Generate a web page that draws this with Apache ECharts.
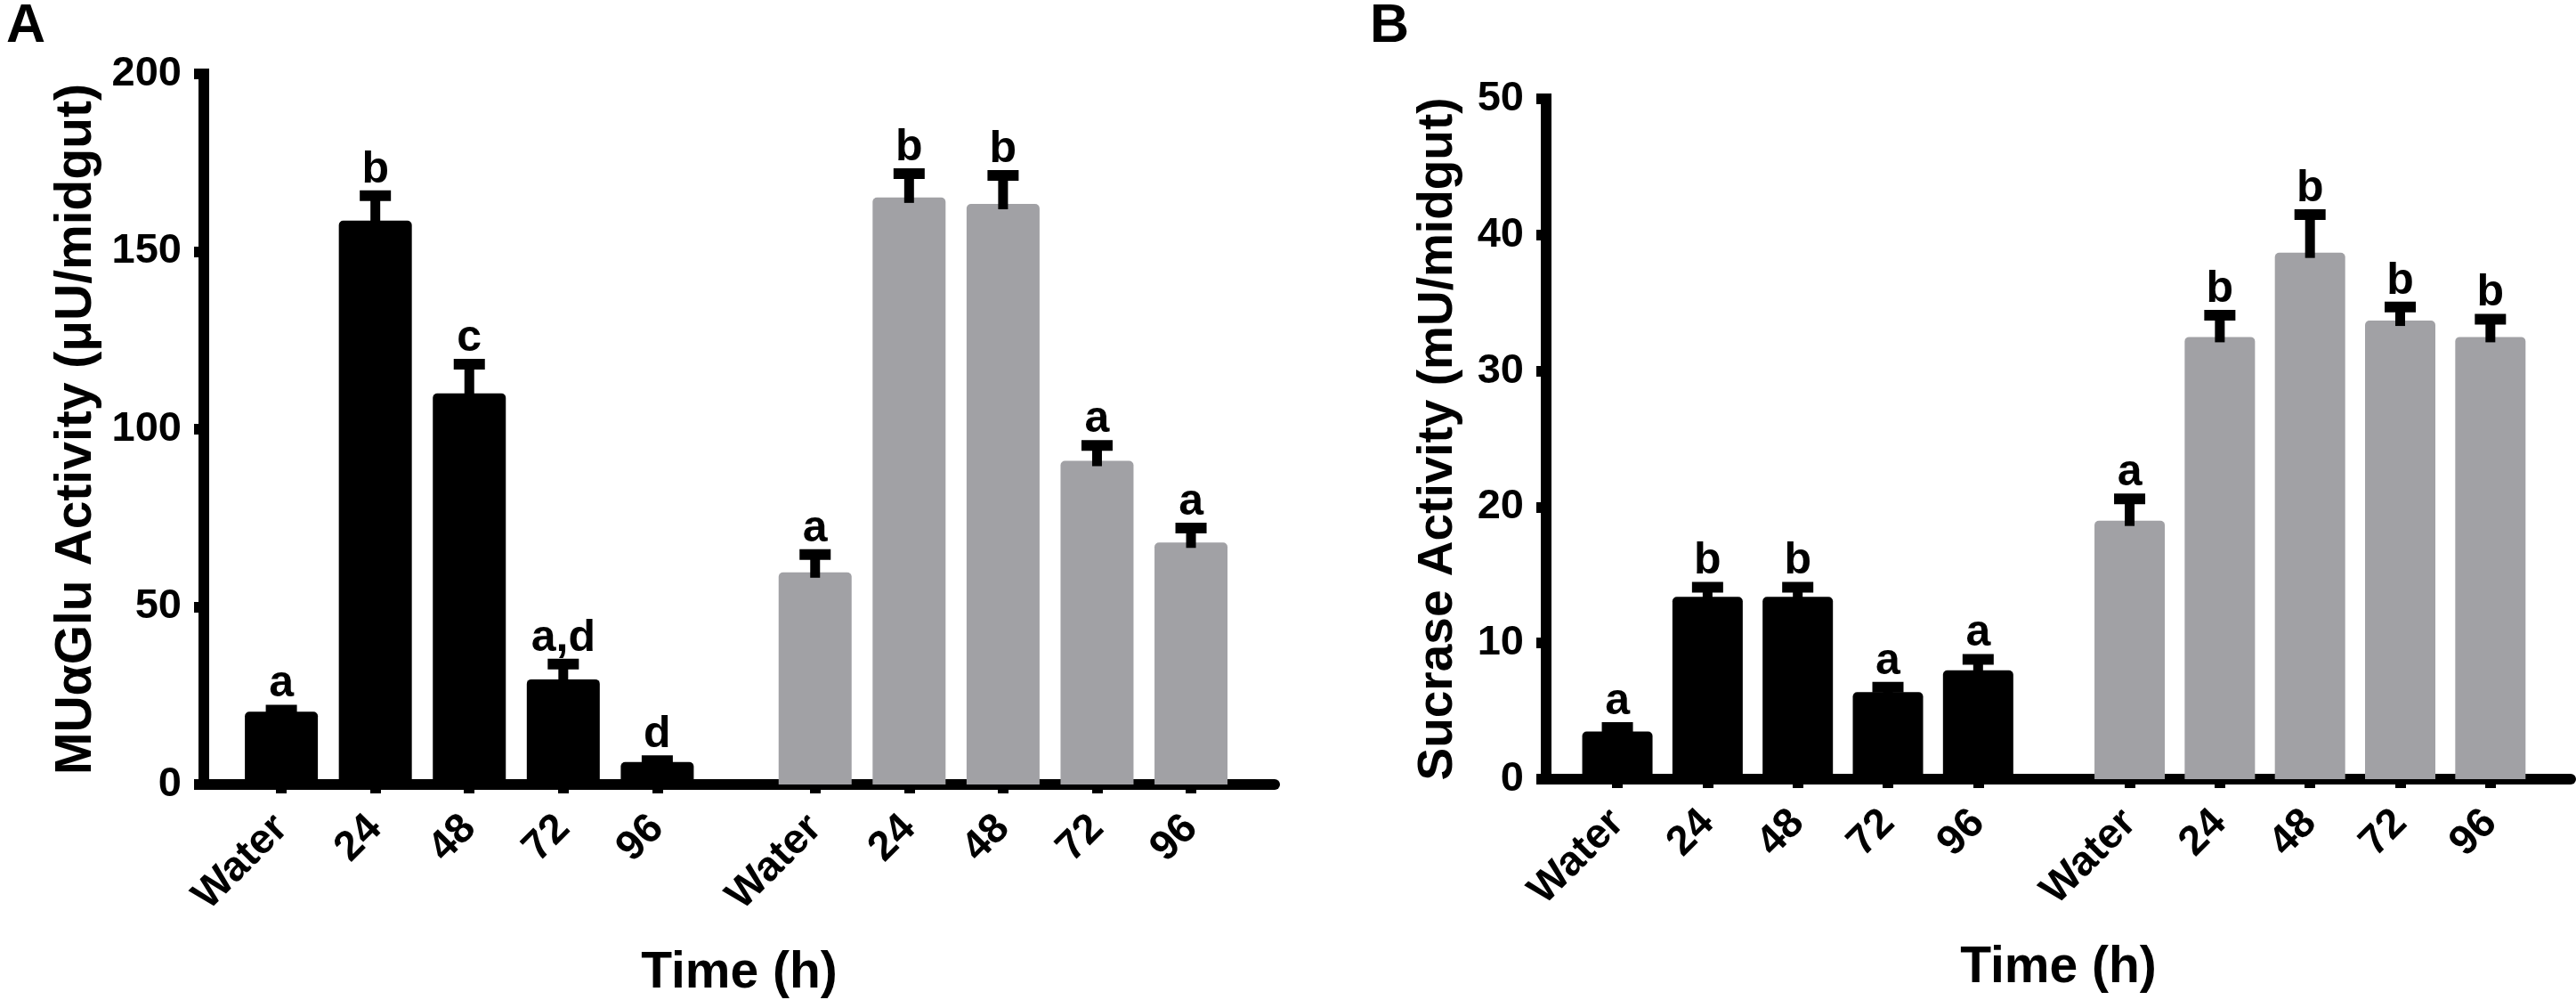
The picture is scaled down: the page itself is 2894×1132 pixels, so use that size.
<!DOCTYPE html>
<html>
<head>
<meta charset="utf-8">
<title>MUaGlu / Sucrase activity</title>
<script src="https://cdn.jsdelivr.net/npm/echarts@6/dist/echarts.min.js"></script>
<style>
    html,body{margin:0;padding:0;background:#fff;}
    #demo{width:2894px;height:1132px;}
</style>
</head>
<body>
<div id="demo"></div>
<script>
// x categories (two groups of five)
var catLabels = ['Water','24','48','72','96','Water','24','48','72','96'];

// panel A : MUaGlu activity (uU/midgut)
var aBlack    = [20.5, 158.7, 110.1, 29.6, 6.3];
var aBlackErr = [0.4, 7.0, 8.2, 4.3, 0.4];
var aGray     = [59.7, 165.2, 163.4, 91.1, 68.1];
var aGrayErr  = [5.0, 6.7, 8.0, 4.3, 4.1];
var aLetters  = ['a','b','c','a,d','d','a','b','b','a','a'];
var aTicks    = [0, 50, 100, 150, 200];

// panel B : Sucrase activity (mU/midgut)
var bBlack    = [3.5, 13.4, 13.4, 6.4, 8.0];
var bBlackErr = [0.3, 0.7, 0.7, 0.35, 0.8];
var bGray     = [19.0, 32.5, 38.7, 33.7, 32.5];
var bGrayErr  = [1.6, 1.6, 2.8, 1.0, 1.3];
var bLetters  = ['a','b','b','a','a','a','b','b','b','b'];
var bTicks    = [0, 10, 20, 30, 40, 50];

var FONT = '"Liberation Sans", Arial, Helvetica, sans-serif';
var BLACK = '#000000', GRAY = '#a1a1a5';
var GROUP_GAP = 0.68;   // extra space between the two groups, in category units

function xPos(i){
    return i < 5 ? i : i + GROUP_GAP;
}

var app = {
    init : function(){
        this.positions = catLabels.map(function(c, i){ return xPos(i); });
        this.chart = echarts.init(document.getElementById('demo'));
        this.chart.setOption(this.buildOption(), true);
    },
    nearestLabel : function(v){
        var best = 0, d = 1e9;
        for (var i = 0; i < this.positions.length; i++) {
            if (Math.abs(this.positions[i] - v) < d) { d = Math.abs(this.positions[i] - v); best = i; }
        }
        return catLabels[best];
    },
    barData : function(black, gray){
        var self = this, out = [];
        black.concat(gray).forEach(function(v, i){
            out.push({ value: [self.positions[i], v], itemStyle: { color: i < 5 ? BLACK : GRAY } });
        });
        return out;
    },
    errData : function(black, gray, blackErr, grayErr){
        var self = this, vals = black.concat(gray), errs = blackErr.concat(grayErr);
        return vals.map(function(v, i){ return [self.positions[i], v, errs[i]]; });
    },
    errRenderer : function(letters){
        return function(params, api){
            var x = api.value(0), v = api.value(1), e = api.value(2);
            var top = api.coord([x, v]);
            var cap = api.coord([x, v + e]);
            return {
                type : 'group',
                children : [
                    { type:'rect', shape:{ x: top[0] - 5.5, y: cap[1], width: 11, height: top[1] - cap[1] + 6 }, style:{ fill: BLACK } },
                    { type:'rect', shape:{ x: cap[0] - 17.5, y: cap[1] - 6, width: 35, height: 12 }, style:{ fill: BLACK } },
                    { type:'text', x: cap[0], y: cap[1] - 4,
                      style:{ text: letters[params.dataIndex], fill: BLACK, font: 'bold 50px ' + FONT, align: 'center', verticalAlign: 'bottom' } }
                ]
            };
        };
    },
    xAxisFor : function(gridIndex, min, max){
        var self = this;
        return {
            gridIndex : gridIndex,
            type : 'value',
            min : min,
            max : max,
            name : 'Time (h)',
            nameLocation : 'middle',
            nameGap : 184,
            nameTextStyle : { color: BLACK, fontFamily: FONT, fontWeight: 'bold', fontSize: 57 },
            axisLine : { show: true, onZero: false, lineStyle: { color: BLACK, width: 12 } },
            axisTick : { show: true, length: 10, lineStyle: { color: BLACK, width: 12 }, customValues: self.positions },
            axisLabel : {
                customValues : self.positions,
                rotate : 45,
                margin : 42,
                color : BLACK,
                fontFamily : FONT,
                fontWeight : 'bold',
                fontSize : 47,
                formatter : function(v){ return self.nearestLabel(v); }
            },
            splitLine : { show: false }
        };
    },
    yAxisFor : function(gridIndex, ticks, name, nameGap, nameSize){
        return {
            gridIndex : gridIndex,
            type : 'value',
            min : ticks[0],
            max : ticks[ticks.length - 1],
            interval : ticks[1] - ticks[0],
            name : name,
            nameLocation : 'middle',
            nameRotate : 90,
            nameGap : nameGap,
            nameTextStyle : { color: BLACK, fontFamily: FONT, fontWeight: 'bold', fontSize: nameSize },
            axisLine : { show: true, onZero: false, lineStyle: { color: BLACK, width: 12, cap: 'square' } },
            axisTick : { show: true, length: 11, lineStyle: { color: BLACK, width: 12 } },
            axisLabel : { margin: 25, color: BLACK, fontFamily: FONT, fontWeight: 'bold', fontSize: 47 },
            splitLine : { show: false }
        };
    },
    buildOption : function(){
        return {
            animation : false,
            backgroundColor : '#ffffff',
            graphic : [
                { type:'text', left: 7, top: 0, style:{ text:'A', fill: BLACK, font: 'bold 61px ' + FONT } },
                { type:'text', left: 1539, top: 0, style:{ text:'B', fill: BLACK, font: 'bold 61px ' + FONT } }
            ],
            grid : [
                { left: 229, top: 83, width: 1203, height: 798 },
                { left: 1737, top: 111, width: 1151, height: 764 }
            ],
            xAxis : [
                this.xAxisFor(0, -0.825, 10.57),
                this.xAxisFor(1, -0.79, 10.57)
            ],
            yAxis : [
                this.yAxisFor(0, aTicks, 'MU\u03b1Glu Activity (\u03bcU/midgut)', 114, 57),
                this.yAxisFor(1, bTicks, 'Sucrase Activity (mU/midgut)', 94, 55)
            ],
            series : [
                {
                    type : 'bar', xAxisIndex: 0, yAxisIndex: 0,
                    barWidth : 82,
                    itemStyle : { borderRadius: [5, 5, 0, 0] },
                    data : this.barData(aBlack, aGray)
                },
                {
                    type : 'custom', xAxisIndex: 0, yAxisIndex: 0, clip: false, z: 5,
                    renderItem : this.errRenderer(aLetters),
                    data : this.errData(aBlack, aGray, aBlackErr, aGrayErr)
                },
                {
                    type : 'bar', xAxisIndex: 1, yAxisIndex: 1,
                    barWidth : 79,
                    itemStyle : { borderRadius: [5, 5, 0, 0] },
                    data : this.barData(bBlack, bGray)
                },
                {
                    type : 'custom', xAxisIndex: 1, yAxisIndex: 1, clip: false, z: 5,
                    renderItem : this.errRenderer(bLetters),
                    data : this.errData(bBlack, bGray, bBlackErr, bGrayErr)
                }
            ]
        };
    }
};

app.init();
</script>
</body>
</html>
